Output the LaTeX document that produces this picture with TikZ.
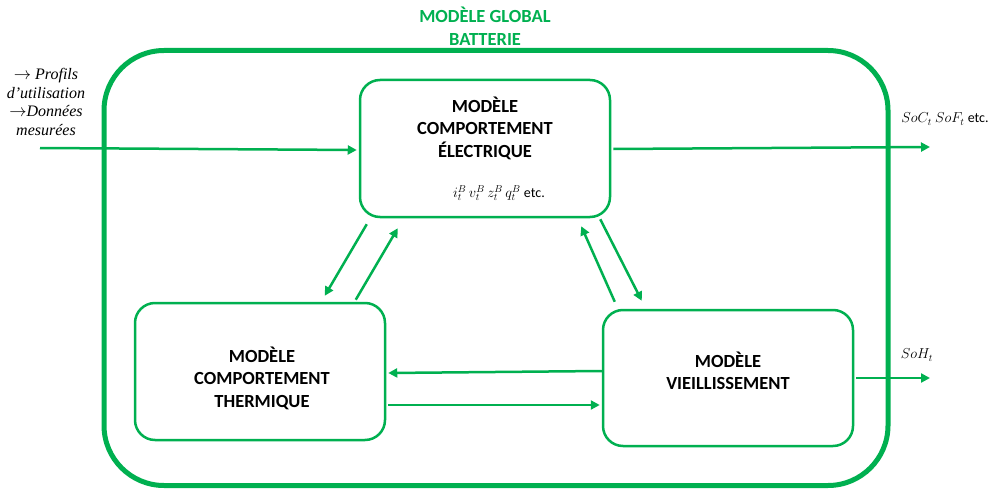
\documentclass[tikz,border=0pt]{standalone}
\usepackage{fontspec}
\setmainfont{Carlito}
\newfontfamily\serifit{Liberation Serif}
\usetikzlibrary{arrows.meta,calc}
\definecolor{vert}{HTML}{00B050}
\begin{document}
\begin{tikzpicture}[x=1pt,y=-1pt,
  box/.style={draw=vert, line width=2.5pt, rounded corners=20pt, minimum width=250pt,
    minimum height=137pt, inner sep=0pt},
  boxtxt/.style={align=center, inner sep=0pt, font=\fontsize{18.5}{22.5}\selectfont\bfseries},
  arr/.style={draw=vert, line width=2.5pt, -{Triangle[length=9pt,width=9pt]}},
  lbl/.style={inner sep=0pt, font=\fontsize{14}{16}\selectfont},
]
\useasboundingbox (0,0) rectangle (990,492);
\node[draw=vert, line width=5pt, rounded corners=60pt, minimum width=784pt,
  minimum height=435pt, inner sep=0pt] (glob) at (496,268) {};
\node[inner sep=0pt, align=center, text=vert, font=\fontsize{18.5}{22.5}\selectfont\bfseries]
  (title) at (485,26) {MODÈLE GLOBAL\\BATTERIE};

\node[box] (elec) at (485,148.5) {};
\node[box] (therm) at (260,371.5) {};
\node[box, minimum height=136pt] (aging) at (728,378) {};

\node[boxtxt] (electxt) at (485,128) {MODÈLE\\COMPORTEMENT\\ÉLECTRIQUE};
\node[lbl, font=\fontsize{14}{16}\selectfont] (elecvars) at (499,193)
  {$i_t^B\,v_t^B\,z_t^B\,q_t^B$ etc.};
\node[boxtxt] (thermtxt) at (262,378) {MODÈLE\\COMPORTEMENT\\THERMIQUE};
\node[boxtxt] (agingtxt) at (728,371) {MODÈLE\\VIEILLISSEMENT};

\node[lbl, align=center, font=\fontsize{16}{18.5}\selectfont\serifit\itshape] (input) at (46,102)
  {$\rightarrow$ Profils\\d’utilisation\\$\rightarrow$Données\\mesurées};
\node[lbl] (outlbl) at (945,119) {$SoC_t\ SoF_t$ etc.};
\node[lbl] (sohlbl) at (917,355) {$SoH_t$};

\coordinate (inpt) at (40,148);
\coordinate (outpt) at (930,147);
\coordinate (sohpt) at (930,378);

\draw[arr] (inpt) -- ($(elec.west)+(-2,1.5)$);
\draw[arr] ($(elec.east)+(2,0.5)$) -- (outpt);
\draw[arr] ($(aging.east)+(2,0)$) -- (sohpt);

\draw[arr] ($(elec.south west)+(8,6)$) -- ($(therm.north west)+(191,-6)$);
\draw[arr] ($(therm.north west)+(222,-2)$) -- ($(elec.south west)+(39,10)$);
\draw[arr] ($(aging.north west)+(13,-7)$) -- ($(elec.south east)+(-30,8)$);
\draw[arr] ($(elec.south east)+(-11,1)$) -- ($(aging.north west)+(40,-8)$);
\draw[arr] ($(aging.west)+(0,-7)$) -- ($(therm.east)+(2,1.5)$);
\draw[arr] ($(therm.east)+(2,33.5)$) -- ($(aging.west)+(-2,27)$);
\end{tikzpicture}
\end{document}
